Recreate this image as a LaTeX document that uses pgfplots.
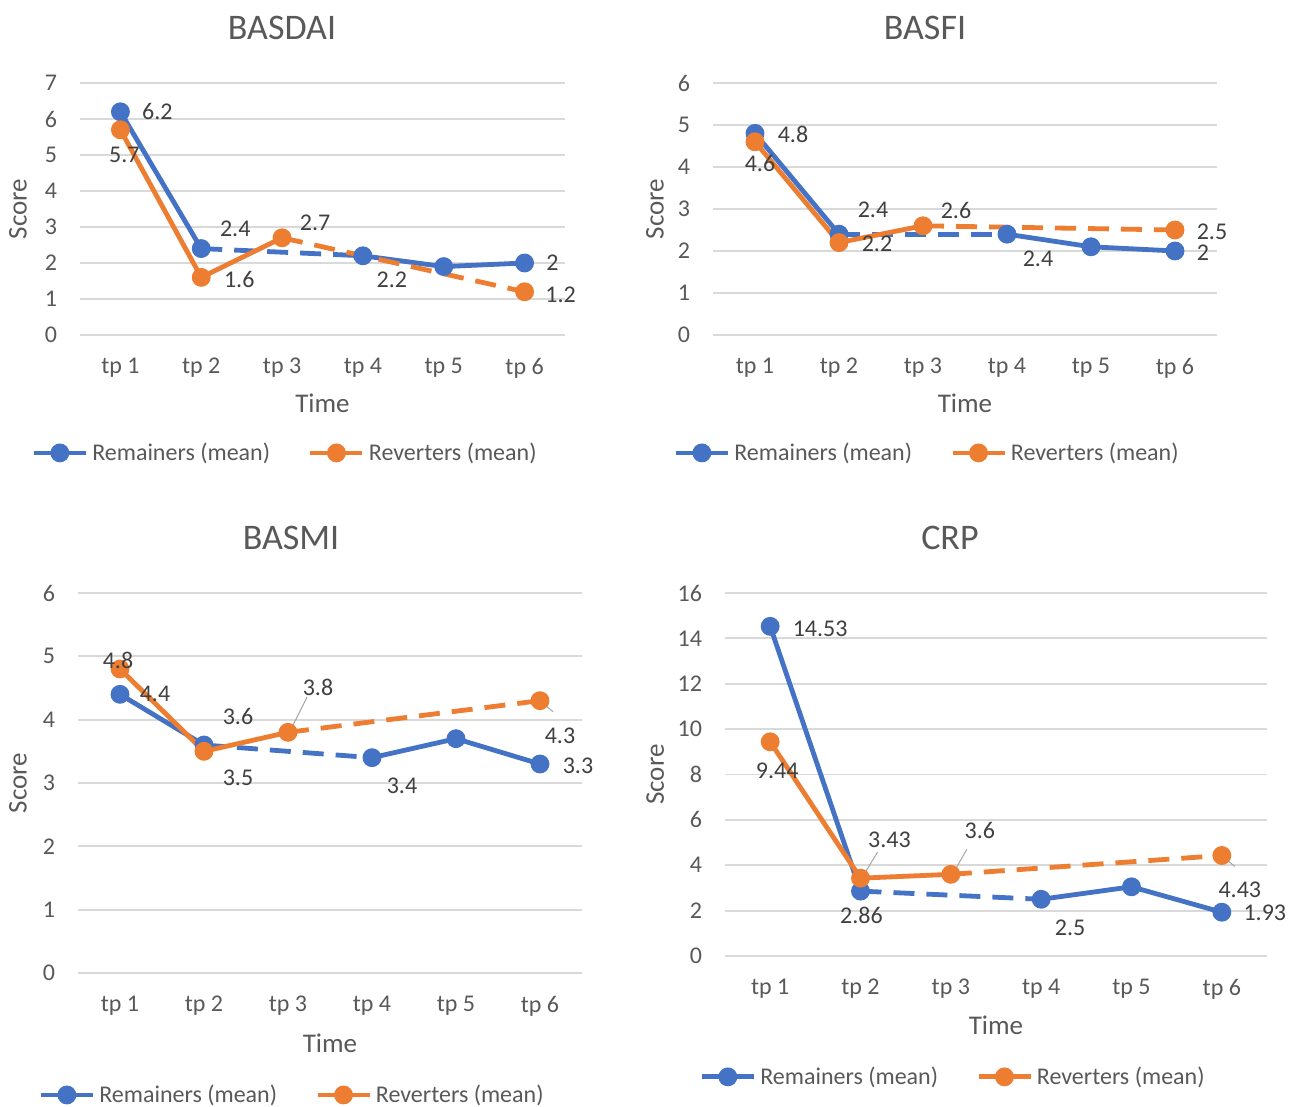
\documentclass[border=0pt]{standalone}
\usepackage{fontspec}
\setmainfont{Carlito}
\usepackage{pgfplots}
\pgfplotsset{compat=1.18}
\definecolor{remblue}{HTML}{4472C4}
\definecolor{revorange}{HTML}{ED7D31}
\definecolor{gridgray}{HTML}{D9D9D9}
\definecolor{txtgray}{HTML}{595959}
\definecolor{lblgray}{HTML}{404040}

\pgfplotsset{
  panel/.style={
    scale only axis, clip=false,
    xmin=0.5, xmax=6.5, ymin=0,
    xtick={1,2,3,4,5,6},
    xticklabels={tp 1,tp 2,tp 3,tp 4,tp 5,tp 6},
    ymajorgrids, grid style={gridgray, line width=0.9pt},
    axis line style={draw=none},
    tick style={draw=none},
    /pgf/number format/assume math mode=true,
    ticklabel style={font=\fontsize{12}{14}\selectfont, text=txtgray},
    yticklabel style={xshift=-8pt},
    xticklabel style={yshift=-8pt},
    xlabel=Time, ylabel=Score,
    label style={font=\fontsize{13.5}{16}\selectfont, text=txtgray},
    xlabel style={anchor=center},
    ylabel style={anchor=center},
    title style={font=\fontsize{18}{21}\selectfont, text=txtgray, anchor=center, yshift=-6pt},
    legend columns=2,
    legend style={draw=none, fill=none, font=\fontsize{12}{14}\selectfont,
      text=txtgray, anchor=center,
      /tikz/every even column/.append style={column sep=17pt}},
    legend image code/.code={\draw[mark repeat=2, mark phase=2]
      plot coordinates {(0pt,0pt) (13pt,0pt) (26pt,0pt)};},
    unbounded coords=jump,
  },
  rem/.style={remblue, line width=2.4pt, mark=*, mark size=3.5pt, mark options={solid}},
  rev/.style={revorange, line width=2.4pt, mark=*, mark size=3.5pt, mark options={solid}},
  dsh/.style={line width=2.4pt, dash pattern=on 10.5pt off 6pt, mark=none, forget plot},
  lbl/.style={draw=none, mark=none, forget plot, nodes near coords,
    point meta=explicit symbolic,
    visualization depends on={value \thisrow{dx} \as \dx},
    visualization depends on={value \thisrow{dy} \as \dy},
    nodes near coords style={anchor=center, xshift=\dx pt, yshift=\dy pt,
      font=\fontsize{12}{14}\selectfont, text=lblgray, inner sep=0pt}},
}

\begin{document}
\begin{tikzpicture}
\path[use as bounding box, fill=white] (0,0) rectangle (644.5pt,553.5pt);

% BASDAI
\begin{axis}[panel, at={(40pt,386pt)}, anchor=south west,
  width=242.5pt, height=126pt, ymax=7, ytick={0,1,...,7},
  title=BASDAI, title style={at={(axis description cs:0.4165,1.218)}},
  xlabel style={at={(axis description cs:0.5,-0.27)}},
  ylabel style={at={(axis description cs:-0.1278,0.5)}},
  legend style={at={(0.4247,-0.468)}}]
\addplot[rem] coordinates {(1,6.2) (2,2.4) (3,nan) (4,2.2) (5,1.9) (6,2.0)};
\addlegendentry{Remainers (mean)}
\addplot[remblue, dsh] coordinates {(2,2.4) (4,2.2)};
\addplot[rev] coordinates {(1,5.7) (2,1.6) (3,2.7) (4,nan) (5,nan) (6,1.2)};
\addlegendentry{Reverters (mean)}
\addplot[revorange, dsh] coordinates {(3,2.7) (6,1.2)};
\addplot[lbl] table[x=x, y=y, meta=lab] {
x y dx dy lab
1 6.2 18.5 0 6.2
1 5.7 2 -12.5 5.7
2 2.4 17 10 2.4
2 1.6 19 -1 1.6
3 2.7 16.5 7.5 2.7
4 2.2 14.5 -12 2.2
6 2.0 14 0 2
6 1.2 18 -1.5 1.2
};
\end{axis}

% BASFI
\begin{axis}[panel, at={(356.5pt,386pt)}, anchor=south west,
  width=252pt, height=126pt, ymax=6, ytick={0,1,...,6},
  title=BASFI, title style={at={(axis description cs:0.4206,1.218)}},
  xlabel style={at={(axis description cs:0.5,-0.27)}},
  ylabel style={at={(axis description cs:-0.115,0.5)}},
  legend style={at={(0.4266,-0.468)}}]
\addplot[rem] coordinates {(1,4.8) (2,2.4) (3,nan) (4,2.4) (5,2.1) (6,2.0)};
\addlegendentry{Remainers (mean)}
\addplot[remblue, dsh] coordinates {(2,2.4) (4,2.4)};
\addplot[rev] coordinates {(1,4.6) (2,2.2) (3,2.6) (4,nan) (5,nan) (6,2.5)};
\addlegendentry{Reverters (mean)}
\addplot[revorange, dsh] coordinates {(3,2.6) (6,2.5)};
\addplot[lbl] table[x=x, y=y, meta=lab] {
x y dx dy lab
1 4.8 19 -0.5 4.8
1 4.6 2.5 -11 4.6
2 2.4 17 12 2.4
2 2.2 19 -0.5 2.2
3 2.6 16.5 7.5 2.6
4 2.4 15.5 -12.5 2.4
6 2.0 14 -1 2
6 2.5 18.5 -1 2.5
};
\end{axis}

% BASMI
\begin{axis}[panel, at={(39pt,67pt)}, anchor=south west,
  width=252pt, height=190pt, ymax=6, ytick={0,1,...,6},
  title=BASMI, title style={at={(axis description cs:0.4226,1.145)}},
  xlabel style={at={(axis description cs:0.5,-0.184)}},
  ylabel style={at={(axis description cs:-0.119,0.5)}},
  legend style={at={(0.4266,-0.321)}}]
\addplot[rem] coordinates {(1,4.4) (2,3.6) (3,nan) (4,3.4) (5,3.7) (6,3.3)};
\addlegendentry{Remainers (mean)}
\addplot[remblue, dsh] coordinates {(2,3.6) (4,3.4)};
\addplot[rev] coordinates {(1,4.8) (2,3.5) (3,3.8) (4,nan) (5,nan) (6,4.3)};
\addlegendentry{Reverters (mean)}
\addplot[revorange, dsh] coordinates {(3,3.8) (6,4.3)};
\draw[gray!70, line width=0.5pt] ([shift={(2pt,2.5pt)}]axis cs:3,3.8) -- ([shift={(9.5pt,17.5pt)}]axis cs:3,3.8);
\draw[gray!70, line width=0.5pt] ([shift={(1pt,-1pt)}]axis cs:6,4.3) -- ([shift={(6.5pt,-5.5pt)}]axis cs:6,4.3);
\addplot[lbl] table[x=x, y=y, meta=lab] {
x y dx dy lab
1 4.8 -1 4.5 4.8
1 4.4 17.5 0 4.4
2 3.6 17 14.5 3.6
2 3.5 17 -13 3.5
3 3.8 15 22.5 3.8
4 3.4 15 -14 3.4
6 4.3 10 -17.5 4.3
6 3.3 19 -1 3.3
};
\end{axis}

% CRP
\begin{axis}[panel, at={(362.5pt,75.5pt)}, anchor=south west,
  width=271pt, height=181.5pt, ymax=16, ytick={0,2,...,16},
  title=CRP, title style={at={(axis description cs:0.415,1.1515)}},
  xlabel style={at={(axis description cs:0.5,-0.19)}},
  ylabel style={at={(axis description cs:-0.129,0.5)}},
  legend style={at={(0.4225,-0.333)}}]
\addplot[rem] coordinates {(1,14.53) (2,2.86) (3,nan) (4,2.5) (5,3.05) (6,1.93)};
\addlegendentry{Remainers (mean)}
\addplot[remblue, dsh] coordinates {(2,2.86) (4,2.5)};
\addplot[rev] coordinates {(1,9.44) (2,3.43) (3,3.6) (4,nan) (5,nan) (6,4.43)};
\addlegendentry{Reverters (mean)}
\addplot[revorange, dsh] coordinates {(3,3.6) (6,4.43)};
\draw[gray!70, line width=0.5pt] ([shift={(1.5pt,1.5pt)}]axis cs:2,3.43) -- ([shift={(8.5pt,13pt)}]axis cs:2,3.43);
\draw[gray!70, line width=0.5pt] ([shift={(2pt,2pt)}]axis cs:3,3.6) -- ([shift={(8pt,12.5pt)}]axis cs:3,3.6);
\draw[gray!70, line width=0.5pt] ([shift={(1pt,-1pt)}]axis cs:6,4.43) -- ([shift={(6.5pt,-5.5pt)}]axis cs:6,4.43);
\addplot[lbl] table[x=x, y=y, meta=lab] {
x y dx dy lab
1 14.53 25 -1 14.53
1 9.44 3.5 -14.5 9.44
2 3.43 14.5 19 3.43
2 2.86 0.5 -12 2.86
3 3.6 14.5 22 3.6
4 2.5 14.5 -14.5 2.5
6 4.43 9 -17 4.43
6 1.93 21.5 -0.5 1.93
};
\end{axis}
\end{tikzpicture}
\end{document}
